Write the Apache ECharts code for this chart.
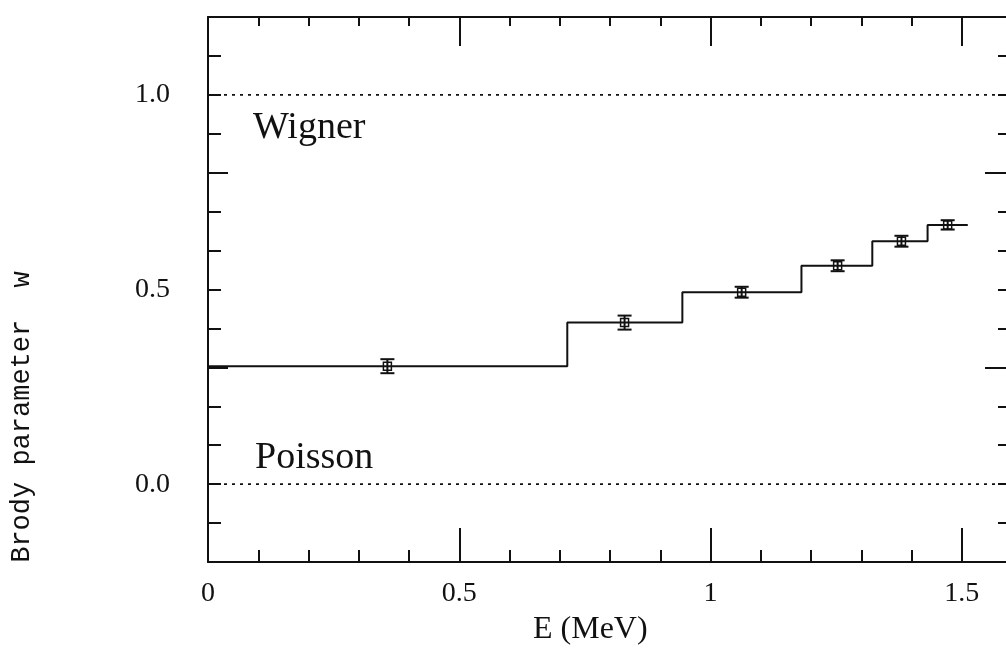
<!DOCTYPE html>
<html>
<head>
<meta charset="utf-8">
<script src="https://cdn.jsdelivr.net/npm/echarts@6/dist/echarts.min.js"></script>
<style>
html,body{margin:0;padding:0;background:#fff;overflow:hidden;width:1006px;height:656px;}
#chart{width:1020px;height:656px;}
</style>
</head>
<body>
<div id="chart"></div>
<script>
// ---- data ----
const stepEdges = [0, 0.715, 0.944, 1.181, 1.322, 1.432, 1.512];
const stepLevels = [0.303, 0.415, 0.493, 0.561, 0.624, 0.666];
const pointX = [0.357, 0.829, 1.062, 1.253, 1.380, 1.472];
const pointY = [0.303, 0.415, 0.493, 0.561, 0.624, 0.666];
const pointErr = [0.018, 0.018, 0.014, 0.014, 0.014, 0.012];
const wignerLevel = 1.0;
const poissonLevel = 0.0;
const xTickLabels = ['0', '0.5', '1', '1.5'];
const yTickLabels = ['0.0', '0.5', '1.0'];
const xTitle = 'E (MeV)';
const yTitle = 'Brody parameter  w';

const INK = '#111';
const SERIF = '"Liberation Serif", "DejaVu Serif", serif';

const stepData = [];
for (let i = 0; i < stepLevels.length; i++) {
  stepData.push([stepEdges[i], stepLevels[i]]);
  stepData.push([stepEdges[i + 1], stepLevels[i]]);
}
const errData = pointX.map((x, i) => [x, pointY[i], pointErr[i]]);

function isHalf(v) { return Math.abs(v * 2 - Math.round(v * 2)) < 1e-6; }
function xLabel(v) {
  if (!isHalf(v)) return '';
  const idx = Math.round(v * 2);
  return xTickLabels[idx] !== undefined ? xTickLabels[idx] : '';
}
function yLabel(v) {
  if (!isHalf(v) || v < -1e-6) return '';
  const idx = Math.round(v * 2);
  return yTickLabels[idx] !== undefined ? yTickLabels[idx] : '';
}

const XMIN = 0, XMAX = 1.6, YMIN = -0.2, YMAX = 1.2;
function xAx(extra) {
  return Object.assign({
    type: 'value', min: XMIN, max: XMAX, gridIndex: 0,
    splitLine: { show: false },
    axisLabel: { show: false },
    axisLine: { show: false, onZero: false },
  }, extra);
}
function yAx(extra) {
  return Object.assign({
    type: 'value', min: YMIN, max: YMAX, gridIndex: 0,
    splitLine: { show: false },
    axisLabel: { show: false },
    axisLine: { show: false, onZero: false },
  }, extra);
}

const chart = echarts.init(document.getElementById('chart'), null, { renderer: 'canvas' });
chart.setOption({
  backgroundColor: '#fff',
  animation: false,
  grid: { left: 208, right: 8, top: 17, bottom: 94, containLabel: false },
  xAxis: [
    xAx({ position: 'bottom', interval: 0.1,
      axisLine: { show: true, onZero: false, lineStyle: { color: INK, width: 2 } },
      axisTick: { show: true, inside: true, length: 12, lineStyle: { color: INK, width: 2 } },
      axisLabel: { show: true, formatter: xLabel, margin: 18, color: INK, fontFamily: SERIF, fontSize: 28,
        showMinLabel: true, showMaxLabel: true, hideOverlap: false } }),
    xAx({ position: 'bottom', interval: 0.5,
      axisTick: { show: true, inside: true, length: 34, lineStyle: { color: INK, width: 2 } } }),
    xAx({ position: 'top', interval: 0.1,
      axisLine: { show: true, onZero: false, lineStyle: { color: INK, width: 2 } },
      axisTick: { show: true, inside: true, length: 9, lineStyle: { color: INK, width: 2 } } }),
    xAx({ position: 'top', interval: 0.5,
      axisTick: { show: true, inside: true, length: 29, lineStyle: { color: INK, width: 2 } } })
  ],
  yAxis: [
    yAx({ position: 'left', interval: 0.1,
      axisLine: { show: true, onZero: false, lineStyle: { color: INK, width: 2 } },
      axisTick: { show: true, inside: true, length: 13, lineStyle: { color: INK, width: 2 } },
      axisLabel: { show: true, formatter: yLabel, margin: 38, color: INK, fontFamily: SERIF, fontSize: 28,
        showMinLabel: true, showMaxLabel: true, hideOverlap: false } }),
    yAx({ position: 'left', interval: 0.5,
      axisTick: { show: true, inside: true, length: 20, lineStyle: { color: INK, width: 2 } } }),
    yAx({ position: 'right', interval: 0.1,
      axisLine: { show: true, onZero: false, lineStyle: { color: INK, width: 2 } },
      axisTick: { show: true, inside: true, length: 14, lineStyle: { color: INK, width: 2 } } }),
    yAx({ position: 'right', interval: 0.5,
      axisTick: { show: true, inside: true, length: 27, lineStyle: { color: INK, width: 2 } } })
  ],
  series: [
    {
      type: 'line', xAxisIndex: 0, yAxisIndex: 0, showSymbol: false, silent: true,
      data: [[XMIN, wignerLevel], [XMAX, wignerLevel]],
      lineStyle: { color: INK, width: 1.6, type: [3, 5] }
    },
    {
      type: 'line', xAxisIndex: 0, yAxisIndex: 0, showSymbol: false, silent: true,
      data: [[XMIN, poissonLevel], [XMAX, poissonLevel]],
      lineStyle: { color: INK, width: 1.6, type: [3, 5] }
    },
    {
      type: 'line', xAxisIndex: 0, yAxisIndex: 0, showSymbol: false, silent: true,
      data: stepData,
      lineStyle: { color: INK, width: 2 }
    },
    {
      type: 'custom', xAxisIndex: 0, yAxisIndex: 0, silent: true,
      data: errData,
      renderItem: function (params, api) {
        const x = api.value(0), y = api.value(1), e = api.value(2);
        const c = api.coord([x, y]);
        const t = api.coord([x, y + e]);
        const b = api.coord([x, y - e]);
        const cap = 7, box = 4;
        const st = { stroke: INK, lineWidth: 2, fill: null };
        return {
          type: 'group',
          children: [
            { type: 'line', shape: { x1: c[0], y1: t[1], x2: c[0], y2: b[1] }, style: st },
            { type: 'line', shape: { x1: c[0] - cap, y1: t[1], x2: c[0] + cap, y2: t[1] }, style: st },
            { type: 'line', shape: { x1: c[0] - cap, y1: b[1], x2: c[0] + cap, y2: b[1] }, style: st },
            { type: 'rect', shape: { x: c[0] - box, y: c[1] - box, width: box * 2, height: box * 2 },
              style: { stroke: INK, lineWidth: 1.5, fill: 'rgba(0,0,0,0)' } }
          ]
        };
      }
    }
  ],
  graphic: [
    { type: 'text', left: 253, top: 109, silent: true,
      style: { text: 'Wigner', font: '38px ' + SERIF, fill: INK } },
    { type: 'text', left: 255, top: 439, silent: true,
      style: { text: 'Poisson', font: '38px ' + SERIF, fill: INK } },
    { type: 'text', left: 533, top: 614, silent: true,
      style: { text: xTitle, font: '32px ' + SERIF, fill: INK } },
    { type: 'text', x: 22, y: 417, rotation: Math.PI / 2, silent: true,
      style: { text: yTitle, font: '27px "Liberation Mono", monospace', fill: INK,
        align: 'center', verticalAlign: 'middle' } }
  ]
});
</script>
</body>
</html>
